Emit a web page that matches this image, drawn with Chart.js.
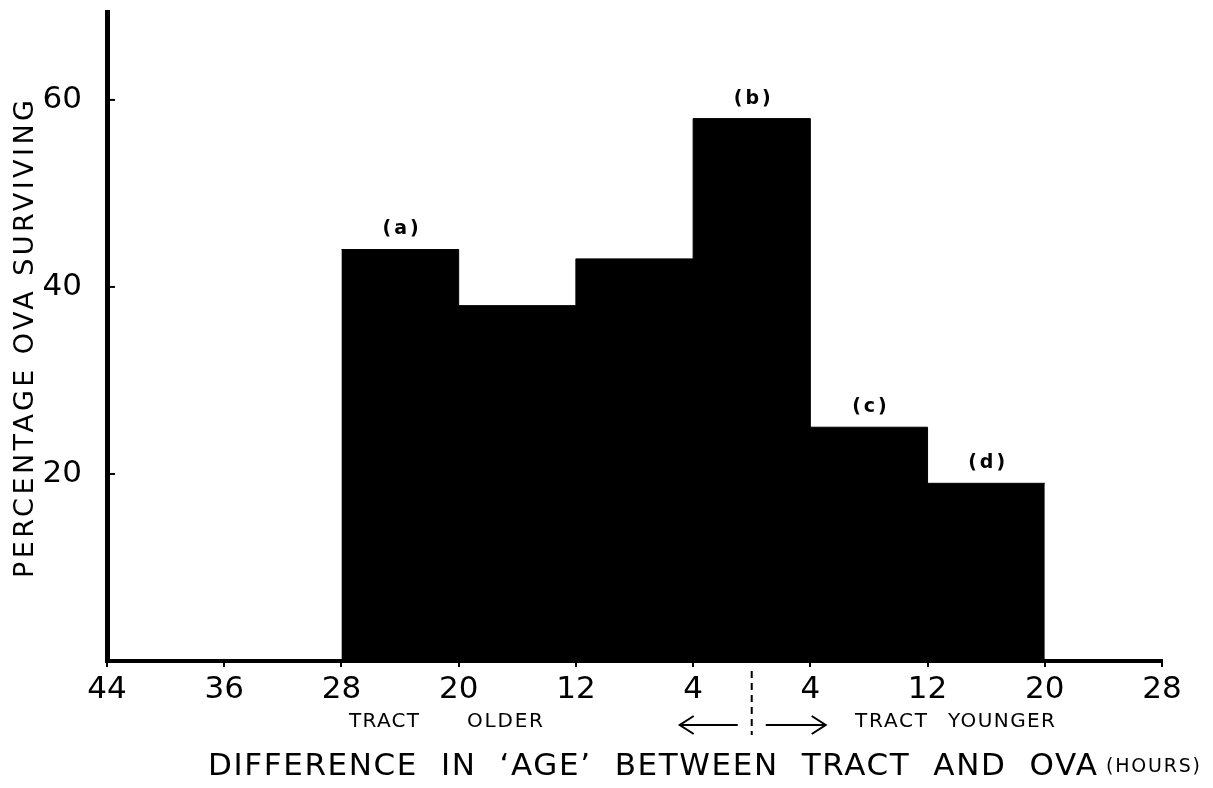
<!DOCTYPE html>
<html>
<head>
<meta charset="utf-8">
<script src="https://cdn.jsdelivr.net/npm/chart.js@4"></script>
<style>
  html, body { margin: 0; padding: 0; background: #fff; }
  canvas { display: block; }
</style>
</head>
<body>
<canvas id="chart" width="1213" height="788"></canvas>
<script>
// hours: negative = tract older, positive = tract younger
const hourTicks = [-44, -36, -28, -20, -12, -4, 4, 12, 20, 28];
const binStart = [-28, -20, -12, -4, 4, 12];
const binEnd = [-20, -12, -4, 4, 12, 20];
const survival = [44, 38, 43, 58, 25, 19];
const barLabels = ['(a)', '', '', '(b)', '(c)', '(d)'];
const yTicks = [20, 40, 60];

const FONT = "'DejaVu Sans', sans-serif";

// stepped outline of the histogram
const steps = [];
for (let i = 0; i < binStart.length; i++) {
    steps.push({ x: binStart[i], y: survival[i] });
}
steps.push({ x: binEnd[binEnd.length - 1], y: survival[survival.length - 1] });

// draws text so that it spans a given width
const spreadText = (ctx, text, x, y, width) => {
    ctx.letterSpacing = '0px';
    const w = ctx.measureText(text).width;
    const gap = text.length > 1 ? (width - w) / (text.length - 1) : 0;
    ctx.letterSpacing = gap + 'px';
    ctx.textAlign = 'left';
    ctx.fillText(text, x, y);
    ctx.letterSpacing = '0px';
}

const arrow = (ctx, x1, x2, y) => {
    const dir = Math.sign(x2 - x1);
    ctx.beginPath();
    ctx.moveTo(x1, y);
    ctx.lineTo(x2, y);
    ctx.moveTo(x2 - dir * 14, y - 9);
    ctx.lineTo(x2, y);
    ctx.lineTo(x2 - dir * 14, y + 9);
    ctx.stroke();
}

const decorations = {
    id: 'decorations',
    afterDraw(chart) {
        const { ctx, chartArea: ca, scales: { x: xs, y: ys } } = chart;
        ctx.save();
        ctx.fillStyle = '#000';
        ctx.strokeStyle = '#000';

        // small inward ticks on y axis
        ctx.lineWidth = 2;
        for (const v of yTicks) {
            const py = ys.getPixelForValue(v);
            ctx.beginPath();
            ctx.moveTo(ca.left, py);
            ctx.lineTo(ca.left + 8, py);
            ctx.stroke();
        }

        // bar labels
        ctx.font = `bold 19px ${FONT}`;
        ctx.textAlign = 'center';
        ctx.textBaseline = 'middle';
        ctx.letterSpacing = '3px';
        for (let i = 0; i < barLabels.length; i++) {
            if (!barLabels[i]) continue;
            const px = xs.getPixelForValue((binStart[i] + binEnd[i]) / 2);
            const py = ys.getPixelForValue(survival[i]) - 20;
            ctx.fillText(barLabels[i], px + 2, py);
        }
        ctx.letterSpacing = '0px';

        // dashed divider at zero
        const x0 = xs.getPixelForValue(0);
        ctx.setLineDash([7, 5]);
        ctx.lineWidth = 2;
        ctx.beginPath();
        ctx.moveTo(x0, ca.bottom + 10);
        ctx.lineTo(x0, ca.bottom + 74);
        ctx.stroke();
        ctx.setLineDash([]);

        // arrows
        const ay = ca.bottom + 64;
        ctx.lineWidth = 2;
        arrow(ctx, x0 - 14, x0 - 72, ay);
        arrow(ctx, x0 + 14, x0 + 74, ay);

        // tract older / younger
        ctx.font = `20px ${FONT}`;
        ctx.textBaseline = 'middle';
        spreadText(ctx, 'TRACT', 349, ay - 3, 70);
        spreadText(ctx, 'OLDER', 467, ay - 3, 76);
        spreadText(ctx, 'TRACT', 855, ay - 3, 72);
        spreadText(ctx, 'YOUNGER', 948, ay - 3, 107);

        // x title
        ctx.font = `31px ${FONT}`;
        ctx.textBaseline = 'alphabetic';
        spreadText(ctx, 'DIFFERENCE  IN  ‘AGE’  BETWEEN  TRACT  AND  OVA', 208, 775, 889);
        ctx.font = `19px ${FONT}`;
        spreadText(ctx, '(HOURS)', 1106, 772, 94);

        // y title
        ctx.save();
        ctx.translate(33, 578);
        ctx.rotate(-Math.PI / 2);
        ctx.font = `27px ${FONT}`;
        spreadText(ctx, 'PERCENTAGE OVA SURVIVING', 0, 0, 478);
        ctx.restore();

        ctx.restore();
    }
};

new Chart(document.getElementById('chart'), {
    type: 'line',
    data: {
        datasets: [{
            data: steps,
            stepped: 'before',
            fill: 'origin',
            backgroundColor: '#000',
            borderColor: '#000',
            borderWidth: 1,
            pointRadius: 0
        }]
    },
    options: {
        responsive: false,
        animation: false,
        devicePixelRatio: 1,
        layout: { padding: { top: 12, right: 51, bottom: 0, left: 0 } },
        plugins: {
            legend: { display: false },
            tooltip: { enabled: false }
        },
        scales: {
            x: {
                type: 'linear',
                min: -44,
                max: 28,
                afterBuildTicks: scale => {
                    scale.ticks = hourTicks.map(v => ({ value: v }));
                },
                afterFit: scale => {
                    scale.height = 127;
                    scale.paddingLeft = 0;
                    scale.paddingRight = 0;
                },
                border: { display: true, color: '#000', width: 4 },
                grid: { drawOnChartArea: false, drawTicks: true, tickLength: 6, color: '#000', lineWidth: 2 },
                ticks: {
                    color: '#000',
                    padding: 4,
                    maxRotation: 0,
                    autoSkip: false,
                    font: { family: FONT, size: 31 },
                    callback: v => Math.abs(v)
                }
            },
            y: {
                min: 0,
                max: 69.4,
                afterBuildTicks: scale => {
                    scale.ticks = yTicks.map(v => ({ value: v }));
                },
                afterFit: scale => {
                    scale.width = 107;
                    scale.paddingTop = 0;
                    scale.paddingBottom = 0;
                },
                border: { display: true, color: '#000', width: 5 },
                grid: { display: false },
                ticks: {
                    color: '#000',
                    padding: 17,
                    font: { family: FONT, size: 31 }
                }
            }
        }
    },
    plugins: [decorations]
});
</script>
</body>
</html>
